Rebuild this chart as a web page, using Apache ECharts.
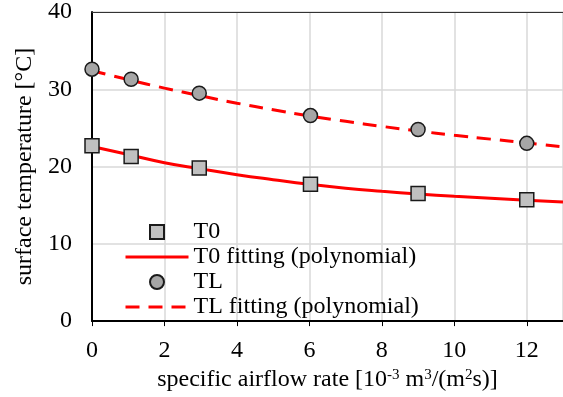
<!DOCTYPE html>
<html>
<head>
<meta charset="utf-8">
<script src="https://cdn.jsdelivr.net/npm/echarts@6/dist/echarts.min.js"></script>
<style>html,body{margin:0;padding:0;background:#fff}#c{width:563px;height:397px}</style>
</head>
<body>
<div id="c"></div>
<script>
// measured data
var flowX = [0, 1.08, 2.96, 6.03, 9.0, 12.0];
var t0Values = [22.7, 21.3, 19.8, 17.7, 16.5, 15.7];
var tlValues = [32.6, 31.3, 29.5, 26.6, 24.8, 23.0];
// fitting curves
var fitX = [0, 1, 2, 3, 4, 5, 6, 7, 8, 9, 10, 11, 12, 13];
var t0Fit = [22.6, 21.55, 20.5, 19.7, 18.95, 18.3, 17.7, 17.2, 16.8, 16.45, 16.15, 15.9, 15.65, 15.4];
var tlFit = [32.4, 31.25, 30.15, 29.15, 28.2, 27.35, 26.55, 25.85, 25.2, 24.6, 24.05, 23.55, 23.05, 22.55];
var seriesNames = ['T0', 'T0 fitting (polynomial)', 'TL', 'TL fitting (polynomial)'];
var xTitle = 'specific airflow rate [10{sup|-3} m{sup|3}/(m{sup|2}s)]';
var yTitle = 'surface temperature [°C]';

function pairs(xs, ys) { return xs.map(function (x, i) { return [x, ys[i]]; }); }

var FONT = 'Liberation Serif';
var FS = 24;
var chart = echarts.init(document.getElementById('c'), null, { renderer: 'canvas' });
chart.setOption({
  animation: false,
  backgroundColor: '#fff',
  grid: { left: 92, right: -1, top: 12, bottom: 72, containLabel: false },
  legend: {
    orient: 'vertical', left: 119, top: 215, itemWidth: 63, itemHeight: 14, itemGap: 1,
    textStyle: { fontFamily: FONT, fontSize: FS, color: '#000' },
    data: [
      { name: seriesNames[0], icon: 'path://M0,0H10V10H0Z' },
      { name: seriesNames[1], itemStyle: { opacity: 0 }, lineStyle: { width: 3, color: '#ff0000' } },
      { name: seriesNames[2], icon: 'circle' },
      { name: seriesNames[3], itemStyle: { opacity: 0 }, lineStyle: { width: 3, color: '#ff0000', type: [14, 9] } }
    ]
  },
  xAxis: [{
    type: 'value', min: 0, max: 13, interval: 2,
    axisLine: { show: true, onZero: false, lineStyle: { color: '#000', width: 2 } },
    axisTick: { show: true, inside: false, length: 5, lineStyle: { color: '#000', width: 1 } },
    axisLabel: { fontFamily: FONT, fontSize: FS, color: '#000', margin: 18, showMaxLabel: false },
    splitLine: { show: true, lineStyle: { color: '#d9d9d9', width: 1.5 } },
    name: xTitle, nameLocation: 'middle', nameGap: 41,
    nameTextStyle: { fontFamily: FONT, fontSize: FS, color: '#000',
      rich: { sup: { fontFamily: FONT, fontSize: 15, color: '#000', verticalAlign: 'top', lineHeight: 24 } } }
  }, {
    type: 'value', min: 0, max: 13, position: 'top',
    axisLine: { show: true, onZero: false, lineStyle: { color: '#333', width: 1 } },
    axisTick: { show: false }, axisLabel: { show: false }, splitLine: { show: false }
  }],
  yAxis: {
    type: 'value', min: 0, max: 40, interval: 10,
    axisLine: { show: true, onZero: false, lineStyle: { color: '#000', width: 2 } },
    axisTick: { show: false },
    axisLabel: { fontFamily: FONT, fontSize: FS, color: '#000', margin: 20 },
    splitLine: { show: true, lineStyle: { color: '#d9d9d9', width: 1.5 } },
    name: yTitle, nameLocation: 'middle', nameGap: 54, nameRotate: 90,
    nameTextStyle: { fontFamily: FONT, fontSize: FS, color: '#000' }
  },
  series: [
    { name: seriesNames[1], type: 'line', smooth: 0.5, showSymbol: false, symbol: 'none',
      data: pairs(fitX, t0Fit), lineStyle: { color: '#ff0000', width: 3 }, itemStyle: { color: '#ff0000' }, z: 2 },
    { name: seriesNames[3], type: 'line', smooth: 0.5, showSymbol: false, symbol: 'none',
      data: pairs(fitX, tlFit), lineStyle: { color: '#ff0000', width: 3, type: [14, 9] }, itemStyle: { color: '#ff0000' }, z: 2 },
    { name: seriesNames[0], type: 'scatter', symbol: 'rect', symbolSize: 14, clip: false,
      data: pairs(flowX, t0Values), itemStyle: { color: '#c0c0c0', borderColor: '#1a1a1a', borderWidth: 1.5, opacity: 1 }, z: 3 },
    { name: seriesNames[2], type: 'scatter', symbol: 'circle', symbolSize: 14, clip: false,
      data: pairs(flowX, tlValues), itemStyle: { color: '#a6a6a6', borderColor: '#1a1a1a', borderWidth: 1.5, opacity: 1 }, z: 3 }
  ]
});
</script>
</body>
</html>
